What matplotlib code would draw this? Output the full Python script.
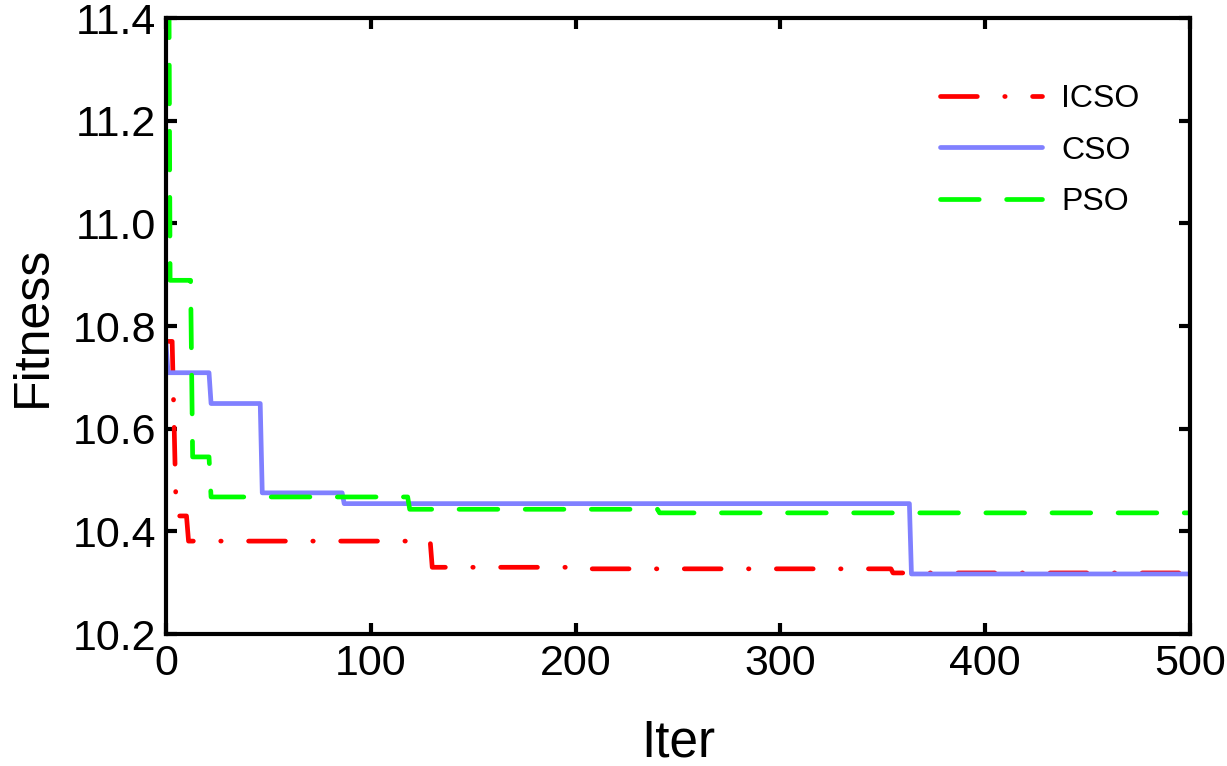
import matplotlib
matplotlib.use("Agg")
import matplotlib.pyplot as plt
import numpy as np

plt.rcParams['font.family'] = ['Liberation Sans', 'DejaVu Sans']

# best fitness per iteration, stored as change points: value holds from that iter on
iters = np.arange(0, 501)

icso_change = [0, 4, 5, 11, 130, 208, 355]
icso_vals = [10.770, 10.60, 10.43, 10.381, 10.330, 10.327, 10.319]

cso_change = [0, 1, 22, 47, 87, 364]
cso_vals = [10.765, 10.709, 10.649, 10.475, 10.454, 10.317]

pso_change = [0, 2, 13, 22, 119, 241]
pso_vals = [11.9, 10.889, 10.545, 10.467, 10.443, 10.436]

x_ticks = [0, 100, 200, 300, 400, 500]
y_ticks = [10.2, 10.4, 10.6, 10.8, 11.0, 11.2, 11.4]


def expand(change, vals):
    idx = np.searchsorted(change, iters, side='right') - 1
    return np.asarray(vals)[idx]


fig = plt.figure(figsize=(12.27, 7.66), dpi=100)
ax = fig.add_axes([0.1353, 0.1723, 0.8345, 0.8042])

lw = 3.4
ax.plot(iters, expand(icso_change, icso_vals), color='#ff0000', lw=lw,
        dashes=(7.8, 5.8, 0.1, 5.8), dash_capstyle='round', label='ICSO')
ax.plot(iters, expand(cso_change, cso_vals), color='#8080ff', lw=lw,
        solid_capstyle='round', label='CSO')
ax.plot(iters, expand(pso_change, pso_vals), color='#00ff00', lw=lw,
        dashes=(8.2, 5.8), dash_capstyle='round', label='PSO')

ax.set_xlim(0, 500)
ax.set_ylim(10.2, 11.4)
ax.set_xticks(x_ticks)
ax.set_yticks(y_ticks)
ax.set_yticklabels(['%.1f' % v for v in y_ticks])
ax.tick_params(direction='in', length=8, width=3, labelsize=31, pad=7,
               top=True, right=True)
for s in ax.spines.values():
    s.set_linewidth(3)

# the reference crops the bottom of this label slightly; keep it just inside
ax.set_xlabel('Iter', fontsize=37, labelpad=25)
ax.set_ylabel('Fitness', fontsize=36, labelpad=12)

ax.legend(loc='upper left', bbox_to_anchor=(0.756, 0.893), frameon=False,
          fontsize=23, handlelength=3.2, handletextpad=0.6, labelspacing=0.68,
          borderpad=0, borderaxespad=0)

fig.savefig('out.png', dpi=100)
